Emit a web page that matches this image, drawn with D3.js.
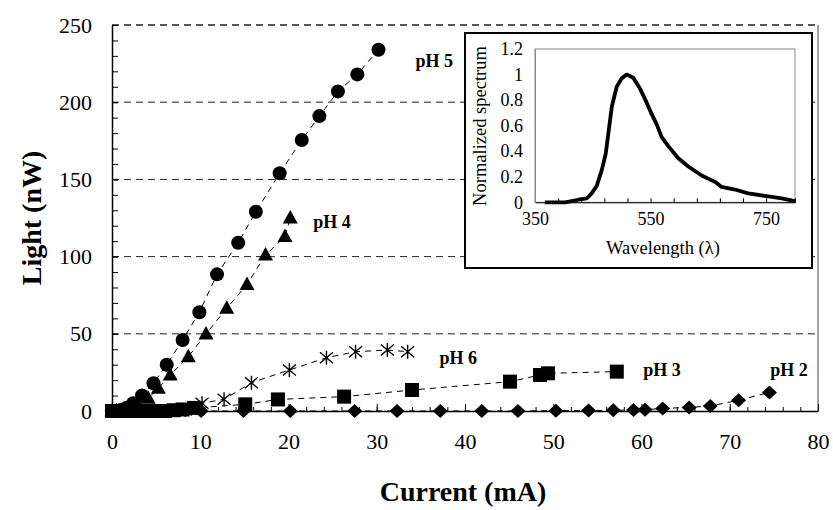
<!DOCTYPE html>
<html><head><meta charset="utf-8">
<script src="https://cdn.jsdelivr.net/npm/d3@7"></script>
<style>body{margin:0;background:#fff}svg{display:block}</style>
</head><body><svg id="c" width="833" height="510"></svg>
<script>
// ---- main chart data ----
const xTickValues = [0,10,20,30,40,50,60,70,80];
const yTickValues = [0,50,100,150,200,250];
const gridValues = [50,100,150,200,250];

const pH5_x = [0,0.5,1.0,1.6,2.4,3.4,4.7,6.2,8.0,9.9,11.9,14.3,16.3,19.0,21.5,23.5,25.6,27.8,30.2];
const pH5_y = [0,0.2,0.6,2,5,10,18,30,46,64,88.5,109,129,154,175.5,191,207,218,234];

const pH4_x = [0,0.5,1.0,2.0,3.0,4.1,5.25,6.6,8.65,10.65,13.0,15.3,17.4,19.6,20.2];
const pH4_y = [0,0.1,0.3,1,3,8.2,14.7,23.3,35.2,49.9,66.5,82,101,113,125];

const pH6_x = [0,1,2,3,4,5,6.6,8.3,10.2,12.7,15.8,20.1,24.3,27.6,31.2,33.5];
const pH6_y = [0,0,0,0,0,0,0,0.6,5,7.6,18.3,26.6,34.5,38.4,39.5,38.4];

const pH3_x = [0,1,2,3,4,5,6,7,8,9.3,15.1,18.8,26.3,34.0,45.1,48.5,49.4,57.2];
const pH3_y = [0,0,0,0,0,0,0,0.5,1,2,4.3,7.5,9.3,13.6,19,23.3,24.4,25.5];

const pH2_x = [0,1,2,3,4,5,6,10.1,14.9,20.2,27.5,32.3,37.2,41.9,46.0,50.3,54.0,56.8,59.1,60.4,62.4,65.4,67.8,71.0,74.5];
const pH2_y = [0,0,0,0,0,0,0,0,0,0,0,0,0,0,0,0.2,0.3,0.5,0.6,0.8,1.7,2.3,3.2,7,12];

const seriesNames = ["pH 5","pH 4","pH 6","pH 3","pH 2"];
const labelX = [34.4,22.8,37.1,60.2,74.6];
const labelY = [222.8,118.5,30.4,22.7,22.7];

// ---- inset data ----
const insetXTicks = [350,550,750];
const insetYTicks = [0,0.2,0.4,0.6,0.8,1,1.2];
const wavelength = [367,402,425,439.5,448,457,465.4,472.4,477,483,491.4,500,508.7,520,531.7,543.3,552,560.6,569.3,580.7,598,615.3,638.5,661.5,673,696,719,748,777,800];
const spectrum   = [0,0,0.02,0.03,0.07,0.13,0.25,0.38,0.54,0.75,0.905,0.97,1.0,0.975,0.89,0.78,0.69,0.61,0.51,0.44,0.345,0.28,0.21,0.16,0.12,0.1,0.07,0.05,0.03,0.01];

const svg = d3.select("#c");
const FONT = "'Liberation Serif','Times New Roman',serif";

const x = d3.scaleLinear().domain([0,80]).range([112,818]);
const y = d3.scaleLinear().domain([0,250]).range([411,25]);

// gridlines
svg.append("g").selectAll("line").data(gridValues).join("line")
  .attr("x1",x(0)).attr("x2",x(80)).attr("y1",d=>y(d)).attr("y2",d=>y(d))
  .attr("stroke","#222").attr("stroke-width",d=>d===250?1.6:1).attr("stroke-dasharray","7,5");

// right border
svg.append("line").attr("x1",x(80)).attr("x2",x(80)).attr("y1",y(250)).attr("y2",y(0))
  .attr("stroke","#444").attr("stroke-width",1);

// axes
const xMinor = d3.range(0,81,2);
const yMinor = d3.range(0,251,10);
svg.append("g").attr("transform",`translate(0,${y(0)})`)
  .call(d3.axisBottom(x).tickValues(xMinor).tickSize(-4).tickFormat(""))
  .call(g=>g.select(".domain").remove());
const xa = svg.append("g").attr("transform",`translate(0,${y(0)})`)
  .call(d3.axisBottom(x).tickValues(xTickValues).tickSize(-7).tickPadding(22).tickSizeOuter(0));
svg.append("g").attr("transform",`translate(${x(0)},0)`)
  .call(d3.axisLeft(y).tickValues(yMinor).tickSize(-6).tickFormat(""))
  .call(g=>g.select(".domain").remove());
const ya = svg.append("g").attr("transform",`translate(${x(0)},0)`)
  .call(d3.axisLeft(y).tickValues(yTickValues).tickSize(-6).tickPadding(20).tickSizeOuter(0));
[xa,ya].forEach(g=>{
  g.selectAll("text").attr("font-family",FONT).attr("font-size",22).attr("fill","#000");
  g.select(".domain").attr("stroke","#000").attr("stroke-width",1.5);
});
svg.selectAll(".tick line").attr("stroke","#000");

// axis titles
svg.append("text").attr("x",463).attr("y",501).attr("text-anchor","middle")
  .attr("font-family",FONT).attr("font-weight","bold").attr("font-size",28).text("Current (mA)");
svg.append("text").attr("transform","translate(41,218) rotate(-90)").attr("text-anchor","middle")
  .attr("font-family",FONT).attr("font-weight","bold").attr("font-size",28).text("Light (nW)");

// series
const series = [
  {xs:pH5_x, ys:pH5_y, m:"circle"},
  {xs:pH4_x, ys:pH4_y, m:"triangle"},
  {xs:pH6_x, ys:pH6_y, m:"star"},
  {xs:pH3_x, ys:pH3_y, m:"square"},
  {xs:pH2_x, ys:pH2_y, m:"diamond"}
];
const line = d3.line().x(d=>x(d[0])).y(d=>y(d[1]));
series.forEach(s=>{
  const pts = s.xs.map((v,i)=>[v,s.ys[i]]);
  svg.append("path").attr("d",line(pts)).attr("fill","none")
    .attr("stroke","#000").attr("stroke-width",1).attr("stroke-dasharray","6,5");
});
series.forEach(s=>{
  const pts = s.xs.map((v,i)=>[v,s.ys[i]]);
  const g = svg.append("g");
  pts.forEach(p=>{
    const cx=x(p[0]), cy=y(p[1]);
    if(s.m==="circle") g.append("circle").attr("cx",cx).attr("cy",cy).attr("r",7).attr("fill","#000");
    else if(s.m==="triangle") g.append("path").attr("d",`M${cx},${cy-8}L${cx+7.5},${cy+5.5}L${cx-7.5},${cy+5.5}Z`).attr("fill","#000");
    else if(s.m==="square") g.append("rect").attr("x",cx-7).attr("y",cy-7).attr("width",14).attr("height",14).attr("fill","#000");
    else if(s.m==="diamond") g.append("path").attr("d",`M${cx},${cy-7}L${cx+7.5},${cy}L${cx},${cy+7}L${cx-7.5},${cy}Z`).attr("fill","#000");
    else if(s.m==="star") g.append("path").attr("d",`M${cx},${cy-7}L${cx},${cy+7}M${cx-6.5},${cy-5.5}L${cx+6.5},${cy+5.5}M${cx-6.5},${cy+5.5}L${cx+6.5},${cy-5.5}`)
      .attr("stroke","#000").attr("stroke-width",1.4).attr("fill","none");
  });
});

// series labels
svg.append("g").selectAll("text").data(seriesNames).join("text")
  .attr("x",(d,i)=>x(labelX[i])).attr("y",(d,i)=>y(labelY[i]))
  .attr("font-family",FONT).attr("font-weight","bold").attr("font-size",18)
  .text(d=>d);

// ---- inset ----
const ins = svg.append("g");
ins.append("rect").attr("x",465).attr("y",33).attr("width",347).attr("height",235)
  .attr("fill","#fff").attr("stroke","#000").attr("stroke-width",2);
const ix = d3.scaleLinear().domain([350,800]).range([535,795]);
const iy = d3.scaleLinear().domain([0,1.2]).range([202.3,49]);
ins.append("rect").attr("x",ix(350)).attr("y",iy(1.2)).attr("width",ix(800)-ix(350)).attr("height",iy(0)-iy(1.2))
  .attr("fill","none").attr("stroke","#888").attr("stroke-width",1);
const ixa = ins.append("g").attr("transform",`translate(0,${iy(0)})`)
  .call(d3.axisBottom(ix).tickValues(d3.range(350,801,40)).tickSize(-4).tickFormat(""));
const ixl = ins.append("g").attr("transform",`translate(0,${iy(0)})`)
  .call(d3.axisBottom(ix).tickValues(insetXTicks).tickSize(0).tickPadding(10));
ixl.select(".domain").remove();
ixa.select(".domain").attr("stroke","#000");
const iya = ins.append("g").attr("transform",`translate(${ix(350)},0)`)
  .call(d3.axisLeft(iy).tickValues(insetYTicks).tickSize(0).tickPadding(12).tickFormat(d=>d3.format("")(+d.toFixed(1))));
iya.select(".domain").attr("stroke","#888");
[ixl,iya].forEach(g=>g.selectAll("text").attr("font-family",FONT).attr("font-size",18).attr("fill","#000"));
ins.selectAll(".tick line").attr("stroke","#000");
ins.append("text").attr("x",663).attr("y",254).attr("text-anchor","middle")
  .attr("font-family",FONT).attr("font-size",18.5).text("Wavelength (λ)");
ins.append("text").attr("transform","translate(486,126) rotate(-90)").attr("text-anchor","middle")
  .attr("font-family",FONT).attr("font-size",18.5).text("Normalized spectrum");
const sl = d3.line().x((d,i)=>ix(wavelength[i])).y(d=>iy(d)).curve(d3.curveLinear);
ins.append("path").attr("d",sl(spectrum)).attr("fill","none").attr("stroke","#000")
  .attr("stroke-width",3.8).attr("stroke-linejoin","round");
</script></body></html>
